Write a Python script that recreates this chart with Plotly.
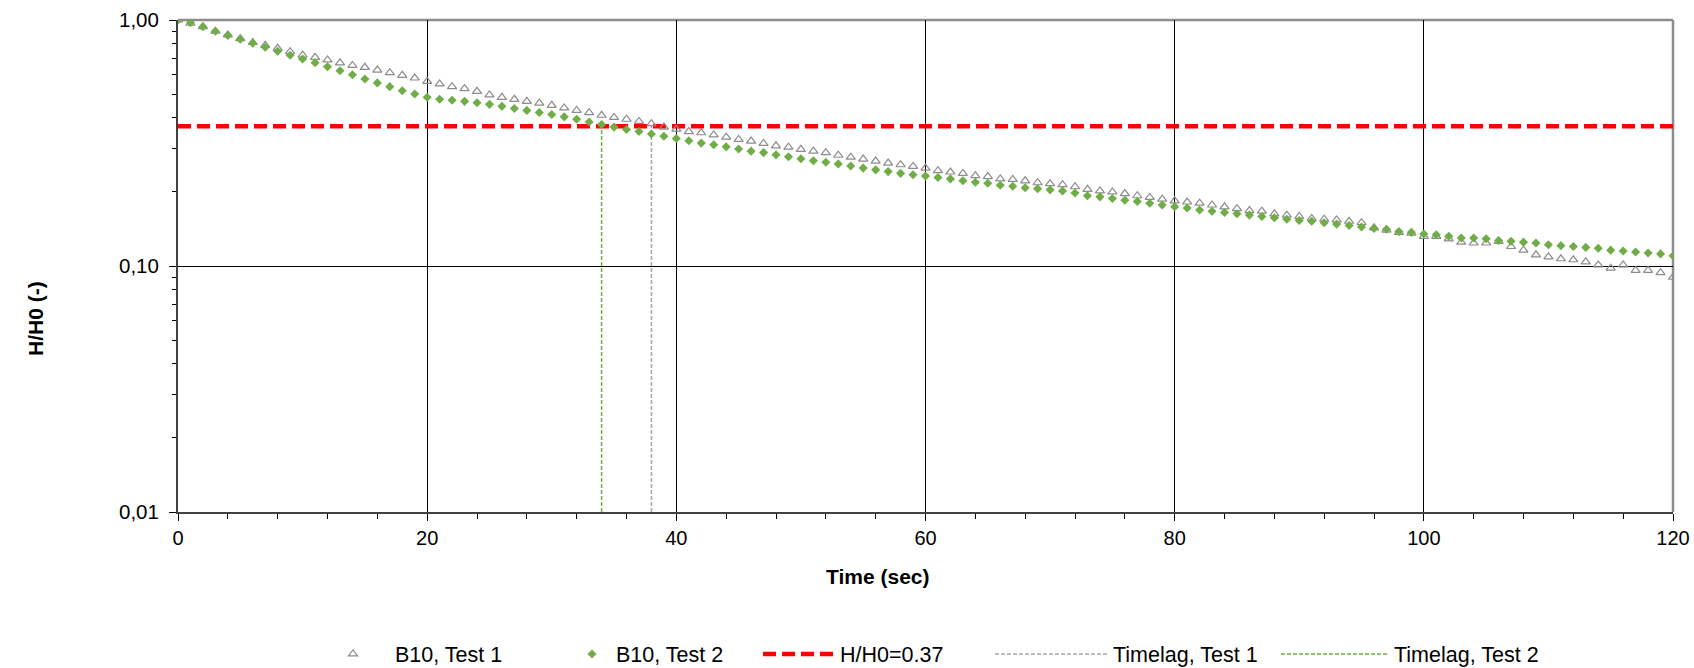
import plotly.graph_objects as go

# ---- data -------------------------------------------------------------
time_s = list(range(0, 121))

test1 = [1.000, 0.970, 0.940, 0.900, 0.870, 0.840, 0.810, 0.789, 0.767, 0.743,
         0.720, 0.705, 0.688, 0.670, 0.654, 0.642, 0.626, 0.611, 0.596, 0.581,
         0.563, 0.550, 0.536, 0.526, 0.513, 0.496, 0.485, 0.476, 0.467, 0.459,
         0.450, 0.439, 0.429, 0.420, 0.410, 0.402, 0.395, 0.387, 0.379, 0.367,
         0.360, 0.352, 0.348, 0.341, 0.334, 0.327, 0.322, 0.315, 0.308, 0.304,
         0.298, 0.293, 0.289, 0.282, 0.277, 0.272, 0.267, 0.262, 0.258, 0.254,
         0.250, 0.244, 0.241, 0.238, 0.233, 0.231, 0.226, 0.225, 0.222, 0.218,
         0.216, 0.214, 0.210, 0.205, 0.202, 0.200, 0.197, 0.193, 0.190, 0.187,
         0.184, 0.182, 0.180, 0.177, 0.174, 0.171, 0.168, 0.167, 0.163, 0.161,
         0.159, 0.156, 0.155, 0.154, 0.152, 0.150, 0.143, 0.140, 0.137, 0.136,
         0.132, 0.132, 0.129, 0.125, 0.124, 0.124, 0.126, 0.120, 0.116, 0.111,
         0.109, 0.107, 0.106, 0.104, 0.101, 0.098, 0.101, 0.096, 0.096, 0.094,
         0.090]

test2 = [1.000, 0.975, 0.939, 0.900, 0.866, 0.835, 0.804, 0.775, 0.746, 0.719,
         0.694, 0.670, 0.646, 0.622, 0.599, 0.576, 0.555, 0.536, 0.516, 0.500,
         0.485, 0.476, 0.472, 0.467, 0.461, 0.454, 0.446, 0.437, 0.429, 0.421,
         0.413, 0.404, 0.395, 0.385, 0.376, 0.367, 0.359, 0.352, 0.344, 0.337,
         0.330, 0.323, 0.316, 0.311, 0.305, 0.299, 0.293, 0.289, 0.283, 0.278,
         0.273, 0.268, 0.264, 0.260, 0.255, 0.250, 0.246, 0.242, 0.238, 0.235,
         0.232, 0.229, 0.226, 0.222, 0.219, 0.217, 0.213, 0.211, 0.208, 0.206,
         0.204, 0.202, 0.198, 0.193, 0.191, 0.188, 0.185, 0.183, 0.180, 0.177,
         0.174, 0.172, 0.169, 0.167, 0.165, 0.163, 0.161, 0.159, 0.157, 0.155,
         0.153, 0.152, 0.150, 0.148, 0.146, 0.144, 0.142, 0.141, 0.138, 0.137,
         0.135, 0.134, 0.132, 0.130, 0.130, 0.129, 0.127, 0.126, 0.125, 0.124,
         0.122, 0.121, 0.120, 0.119, 0.118, 0.116, 0.115, 0.114, 0.113, 0.112,
         0.110]

h_ratio = 0.37
timelag_test1 = 38
timelag_test2 = 34
y_floor = 0.01

x_tickvals = [0, 20, 40, 60, 80, 100, 120]
y_tickvals = [0.01, 0.1, 1.0]
y_ticktext = ["0,01", "0,10", "1,00"]
y_minor = [0.02, 0.03, 0.04, 0.05, 0.06, 0.07, 0.08, 0.09,
           0.2, 0.3, 0.4, 0.5, 0.6, 0.7, 0.8, 0.9]

# ---- styles -------------------------------------------------------------
FONT = "Liberation Sans, Arial, sans-serif"
FS_TICK = 20
FS_LEG = 21.5
FS_TITLE = 21
GREEN = "#70AD47"
GRAY = "#8C8C8C"
W, H = 1694, 668
L, R, T, B = 178, 21, 20, 156
PW = W - L - R
PH = H - T - B


def px2paper_x(px):
    return (px - L) / PW


def px2paper_y(py):
    return (H - B - py) / PH


fig = go.Figure()

fig.add_trace(go.Scatter(
    x=[time_s[0], time_s[-1]], y=[h_ratio, h_ratio], mode="lines",
    name="H/H0=0.37",
    line=dict(color="#FF0000", width=4.5, dash="13px,6px"),
    legend="legend3"))
fig.add_trace(go.Scatter(
    x=[timelag_test1, timelag_test1], y=[y_floor, h_ratio], mode="lines",
    name="Timelag, Test 1",
    line=dict(color="#A6A6A6", width=1.5, dash="4px,2px"),
    legend="legend4"))
fig.add_trace(go.Scatter(
    x=[timelag_test2, timelag_test2], y=[y_floor, h_ratio], mode="lines",
    name="Timelag, Test 2",
    line=dict(color=GREEN, width=1.5, dash="4px,2px"),
    legend="legend5"))
fig.add_trace(go.Scatter(
    x=time_s, y=test1, mode="markers", name="B10, Test 1",
    marker=dict(symbol="triangle-up-open", size=8, color=GRAY,
                line=dict(width=1.2, color=GRAY)),
    legend="legend"))
fig.add_trace(go.Scatter(
    x=time_s, y=test2, mode="markers", name="B10, Test 2",
    marker=dict(symbol="diamond", size=7, color=GREEN),
    legend="legend2"))

leg_y = px2paper_y(654)
leg_common = dict(orientation="h", yanchor="middle", y=leg_y, xanchor="left",
                  font=dict(family=FONT, size=FS_LEG, color="#000"),
                  bgcolor="rgba(0,0,0,0)", borderwidth=0, tracegroupgap=0)

layout_legends = {}
for key, left_px, iw in [("legend", 311, 74), ("legend2", 568, 38),
                         ("legend3", 758, 72), ("legend4", 990, 113),
                         ("legend5", 1276, 108)]:
    layout_legends[key] = dict(leg_common, x=px2paper_x(left_px), itemwidth=iw)

fig.update_layout(
    width=W, height=H,
    margin=dict(l=L, r=R, t=T, b=B, pad=0, autoexpand=False),
    paper_bgcolor="white", plot_bgcolor="white",
    font=dict(family=FONT, size=FS_TICK, color="#000"),
    showlegend=True,
    **layout_legends,
)

fig.update_xaxes(
    range=[0, 120], tickvals=x_tickvals,
    ticks="outside", ticklen=7, tickwidth=1, tickcolor="#000",
    showline=True, linecolor="#404040", linewidth=2,
    showgrid=True, gridcolor="#000", gridwidth=1,
    zeroline=False,
    tickfont=dict(family=FONT, size=FS_TICK, color="#000"),
    minor=dict(dtick=4, ticks="outside", ticklen=5, tickcolor="#000",
               showgrid=False),
)
fig.update_yaxes(
    type="log", range=[-2, 0], tickvals=y_tickvals, ticktext=y_ticktext,
    ticks="outside", ticklen=7, tickwidth=1, tickcolor="#000",
    showline=True, linecolor="#404040", linewidth=2,
    showgrid=True, gridcolor="#000", gridwidth=1,
    zeroline=False,
    tickfont=dict(family=FONT, size=20.5, color="#000"),
    ticklabelstandoff=6,
    minor=dict(tickvals=y_minor, ticks="outside", ticklen=4, tickcolor="#000",
               showgrid=False),
)

# top and right frame (gray)
fig.add_shape(type="line", xref="paper", yref="paper", x0=0, x1=1, y0=1, y1=1,
              line=dict(color="#8C8C8C", width=2.5), layer="between")
fig.add_shape(type="line", xref="paper", yref="paper", x0=1, x1=1, y0=0, y1=1,
              line=dict(color="#8C8C8C", width=2.5), layer="between")

# axis titles
fig.add_annotation(text="<b>Time (sec)</b>", xref="paper", yref="paper",
                   x=px2paper_x(878), y=px2paper_y(576), showarrow=False,
                   xanchor="center", yanchor="middle",
                   font=dict(family=FONT, size=FS_TITLE, color="#000"))
fig.add_annotation(text="<b>H/H0 (-)</b>", xref="paper", yref="paper",
                   x=px2paper_x(35), y=px2paper_y(319), showarrow=False,
                   textangle=-90, xanchor="center", yanchor="middle",
                   font=dict(family=FONT, size=FS_TITLE, color="#000"))

fig.write_html("out.html")
